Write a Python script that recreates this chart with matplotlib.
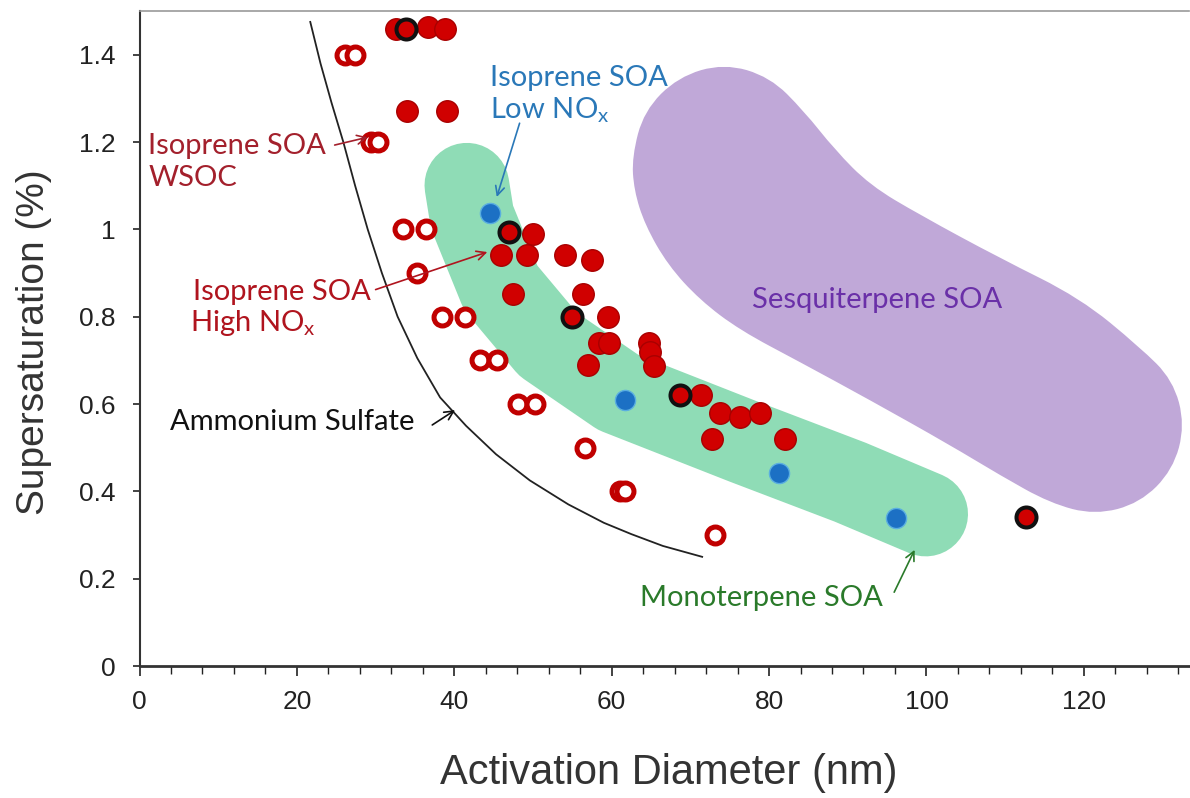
import matplotlib
matplotlib.use("Agg")
import matplotlib.pyplot as plt
from matplotlib.ticker import MultipleLocator
from matplotlib.path import Path
from matplotlib.patches import PathPatch

# ---------------- data ----------------
# Isoprene SOA WSOC (open circles)
wsoc_x = [26.1, 27.4, 29.4, 30.3, 33.5, 36.4, 35.2, 38.5, 41.3, 43.3, 45.4, 48.1, 50.3, 56.6, 61.0, 61.7, 73.1]
wsoc_y = [1.40, 1.40, 1.20, 1.20, 1.00, 1.00, 0.90, 0.80, 0.80, 0.70, 0.70, 0.60, 0.60, 0.50, 0.40, 0.40, 0.30]

# Isoprene SOA High NOx (filled red)
high_x = [32.6, 36.7, 38.8, 34.0, 39.1, 50.0, 45.9, 49.3, 54.1, 57.5, 47.5, 56.3, 59.5,
          58.4, 59.6, 57.0, 64.7, 64.9, 65.4, 71.4, 73.8, 76.3, 78.8, 72.7, 82.0]
high_y = [1.458, 1.464, 1.458, 1.271, 1.271, 0.99, 0.941, 0.941, 0.941, 0.93, 0.852, 0.852, 0.80,
          0.74, 0.74, 0.69, 0.74, 0.72, 0.687, 0.62, 0.58, 0.57, 0.58, 0.52, 0.52]

# Red with black outline
ring_x = [33.9, 47.0, 55.0, 68.7, 112.6]
ring_y = [1.458, 0.994, 0.80, 0.62, 0.341]

# Isoprene SOA Low NOx (blue)
low_x = [44.5, 61.7, 81.2, 96.1]
low_y = [1.037, 0.609, 0.441, 0.34]

# Ammonium sulfate curve
as_x = [21.7, 23.0, 24.4, 25.9, 27.4, 29.0, 30.8, 32.8, 35.3, 38.2, 41.5, 45.3, 49.6, 54.5, 59.0, 62.5, 66.5, 71.5]
as_y = [1.475, 1.38, 1.29, 1.20, 1.10, 1.00, 0.90, 0.80, 0.705, 0.615, 0.55, 0.485, 0.425, 0.37, 0.328, 0.302, 0.275, 0.25]

# Monoterpene SOA region (centre line of the band)
mono_x = [41.6, 42.25, 45.9, 51.9, 60.8, 76.9, 90.3, 99.9]
mono_y = [1.101, 1.028, 0.866, 0.737, 0.627, 0.513, 0.421, 0.348]

# Sesquiterpene SOA region (outline control points)
sesq_x = [62.58, 64.10, 68.42, 74.27, 80.11, 84.43, 88.37, 92.82, 99.17, 109.34, 119.50,
          127.13, 131.32, 132.85, 131.32, 127.13, 121.41, 115.69, 109.34, 102.99, 92.82,
          83.93, 76.30, 71.22, 67.15, 64.23, 62.83]
sesq_y = [1.166, 1.271, 1.349, 1.380, 1.349, 1.271, 1.182, 1.101, 1.033, 0.934, 0.843,
          0.730, 0.655, 0.552, 0.449, 0.373, 0.346, 0.373, 0.437, 0.506, 0.609,
          0.696, 0.769, 0.838, 0.918, 1.010, 1.090]

x_ticks = [0, 20, 40, 60, 80, 100, 120]
y_ticks = [0, 0.2, 0.4, 0.6, 0.8, 1.0, 1.2, 1.4]
y_ticklabels = ["0", "0.2", "0.4", "0.6", "0.8", "1", "1.2", "1.4"]

# ---------------- figure ----------------
W, H = 1190, 798
fig = plt.figure(figsize=(W / 100, H / 100), dpi=100)
x0, x1 = 139.5, 1188.5
yb, yt = 666, 11
ax = fig.add_axes([x0 / W, 1 - yb / H, (x1 - x0) / W, (yb - yt) / H])
ax.set_xlim(0, 133.3)
ax.set_ylim(0, 1.5)

ann_font = "Lato"
plt.rcParams["mathtext.fontset"] = "custom"
plt.rcParams["mathtext.rm"] = ann_font

green = "#8fdcb6"
purple = "#c0a8d8"

# smooth closed outline (quadratic B-spline through the control polygon)
n = len(sesq_x)
mids = [((sesq_x[i] + sesq_x[(i + 1) % n]) / 2, (sesq_y[i] + sesq_y[(i + 1) % n]) / 2) for i in range(n)]
verts = [mids[0]]
codes = [Path.MOVETO]
for i in range(1, n + 1):
    verts.append((sesq_x[i % n], sesq_y[i % n]))
    verts.append(mids[i % n])
    codes += [Path.CURVE3, Path.CURVE3]
ax.add_patch(PathPatch(Path(verts, codes), facecolor=purple, edgecolor="none", zorder=1))

ax.plot(mono_x, mono_y, color=green, lw=61, solid_capstyle="round",
        solid_joinstyle="round", zorder=1.1)

ax.plot(as_x, as_y, color="#222222", lw=1.3, zorder=2)

ax.plot(wsoc_x, wsoc_y, ls="none", marker="o", ms=12.2, mew=3.6,
        mfc="white", mec="#c00000", zorder=3)
ax.plot(high_x, high_y, ls="none", marker="o", ms=15.5, mew=1.0,
        mfc="#d00000", mec="#a80000", zorder=4)
ax.plot(low_x, low_y, ls="none", marker="o", ms=14.5, mew=1.0,
        mfc="#1c70c4", mec="#5aaee0", zorder=4)
ax.plot(ring_x, ring_y, ls="none", marker="o", ms=14.4, mew=2.9,
        mfc="#d00000", mec="#111111", zorder=5)

# ---------------- annotations ----------------
fs = 21
def txt(x, y, s, c):
    ax.text(x, y, s, color=c, fontsize=fs, family=ann_font, ha="left", va="center", zorder=6)

def arr(xy_from, xy_to, c):
    ax.annotate("", xy=xy_to, xytext=xy_from,
                arrowprops=dict(arrowstyle="->", color=c, lw=1.2,
                                shrinkA=0, shrinkB=0, mutation_scale=16), zorder=6)

wsoc_c = "#a3202c"
txt(1.1, 1.191, "Isoprene SOA", wsoc_c)
txt(1.1, 1.117, "WSOC", wsoc_c)
arr((24.8, 1.193), (29.0, 1.211), wsoc_c)

blue_c = "#2a78b8"
txt(44.5, 1.346, "Isoprene SOA", blue_c)
txt(44.5, 1.273, r"Low NO$_\mathregular{x}$", blue_c)
arr((48.3, 1.243), (45.4, 1.074), blue_c)

red_c = "#b0141e"
txt(6.8, 0.856, "Isoprene SOA", red_c)
txt(6.4, 0.785, r"High NO$_\mathregular{x}$", red_c)
arr((30.0, 0.862), (44.2, 0.948), red_c)

txt(3.9, 0.559, "Ammonium Sulfate", "#111111")
arr((37.2, 0.552), (40.1, 0.586), "#111111")

green_c = "#2a7a2a"
txt(63.6, 0.156, "Monoterpene SOA", green_c)
arr((95.9, 0.169), (98.5, 0.266), green_c)

txt(77.8, 0.838, "Sesquiterpene SOA", "#6a30a8")

# ---------------- axes styling ----------------
ax.spines["right"].set_visible(False)
ax.spines["top"].set_color("#9a9a9a")
ax.spines["top"].set_linewidth(1.2)
ax.spines["left"].set_color("#333333")
ax.spines["left"].set_linewidth(1.5)
ax.spines["bottom"].set_color("#333333")
ax.spines["bottom"].set_linewidth(2.0)

ax.set_xticks(x_ticks)
ax.set_xticklabels([str(t) for t in x_ticks])
ax.xaxis.set_minor_locator(MultipleLocator(4))
ax.set_yticks(y_ticks)
ax.set_yticklabels(y_ticklabels)

tick_font = "Liberation Sans"
ax.tick_params(axis="x", which="major", direction="out", length=7, width=1.2,
               pad=10, labelsize=19, colors="#222222")
ax.tick_params(axis="x", which="minor", direction="out", length=5.5, width=1.0, colors="#222222")
ax.tick_params(axis="y", which="major", direction="out", length=5, width=1.2,
               pad=12, labelsize=19, colors="#222222")
for lab in ax.get_xticklabels() + ax.get_yticklabels():
    lab.set_family(tick_font)

ax.set_xlabel("Activation Diameter (nm)", fontsize=30, family=tick_font, color="#333333")
ax.set_ylabel("Supersaturation (%)", fontsize=28, family=tick_font, color="#333333")
ax.xaxis.set_label_coords(0.505, -0.133)
ax.yaxis.set_label_coords(-0.083, 0.495)

fig.savefig("out.png", dpi=100)
